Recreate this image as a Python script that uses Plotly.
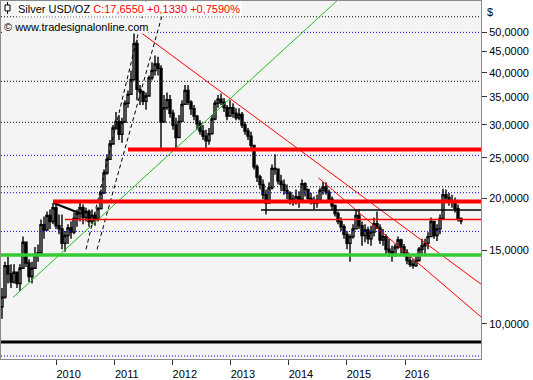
import numpy as np
import plotly.graph_objects as go

# ---------------- data ----------------
close_vals = [
    11.6, 13.8, 13.2, 12.6, 13.3, 12.5, 13.6, 15.7, 14.0, 13.0, 13.6, 14.6, 14.8, 17.3, 16.8, 18.2, 17.6, 19.0, 17.2, 16.9,
    15.6, 16.3, 17.0, 16.6, 17.9, 18.4, 19.0, 18.0, 18.6, 17.6, 18.2, 17.9, 18.9, 20.6,
    23.0, 24.8, 27.0, 29.5, 30.6, 28.5, 30.5, 33.8, 35.5, 38.5, 47.0, 36.5, 36.0, 34.2, 35.2, 38.9, 40.5, 42.0, 41.0, 30.5,
    33.0, 34.5, 32.0, 30.0, 28.0, 30.6, 33.6, 36.3, 34.0, 32.8, 31.5, 30.2, 29.0, 28.2, 27.5, 28.6, 31.0, 33.8, 34.6, 34.0,
    33.0, 31.5, 33.0, 32.0, 31.2, 31.8, 30.0, 29.0, 28.2, 26.8,
    23.8, 22.5, 21.6, 20.4, 19.5, 21.2, 23.6, 23.5, 22.0, 21.6, 20.9, 20.6, 19.9, 19.6, 20.2, 19.9, 21.7, 21.0, 20.0, 19.7,
    19.5, 19.8, 20.9, 21.3, 20.7, 19.9, 19.2, 18.4, 17.6, 17.1,
    16.4, 15.6, 16.2, 16.9, 18.2, 17.2, 16.3, 16.8, 16.0, 16.6, 17.4, 17.0, 15.9, 16.2, 15.1, 14.9, 14.6, 15.3, 15.9, 15.3,
    14.8, 14.2, 13.9, 13.8, 14.2, 15.1, 15.4, 15.6, 16.2, 17.6, 16.3, 16.9, 17.9, 20.4, 20.1, 19.7, 19.6, 18.9, 17.9, 17.655,
]
high_vals = [
    12.2, 14.1, 14.5, 13.9, 13.9, 13.3, 13.9, 16.2, 15.7, 14.3, 14.1, 15.3, 15.5, 17.8, 18.1, 18.6, 18.8, 19.5, 19.35, 18.3,
    18.3, 16.7, 17.35, 17.6, 18.5, 18.8, 19.5, 19.35, 19.0, 18.8, 18.8, 18.5, 19.1, 21.0,
    23.45, 25.5, 27.6, 30.0, 32.2, 31.7, 31.2, 34.4, 36.3, 40.5, 50.0, 48.0, 37.4, 36.3, 35.9, 39.4, 42.4, 44.0, 43.7, 41.7,
    35.4, 35.9, 35.4, 32.6, 31.2, 31.7, 34.4, 37.4, 37.4, 34.4, 33.5, 31.7, 30.8, 30.0, 29.2, 29.5, 31.7, 34.4, 35.4, 35.7,
    34.8, 33.5, 34.4, 33.8, 32.9, 32.9, 32.2, 30.5, 29.5, 28.9,
    26.2, 24.1, 22.8, 22.2, 21.0, 21.85, 24.1, 25.5, 23.45, 22.8, 22.2, 21.6, 20.8, 20.4, 21.0, 20.8, 22.2, 21.85, 21.0, 20.6,
    20.2, 20.4, 21.2, 21.9, 21.85, 21.0, 20.2, 19.35, 18.6, 18.0,
    17.35, 16.7, 16.4, 17.35, 18.8, 18.8, 17.6, 17.35, 17.1, 17.2, 18.0, 18.6, 17.35, 16.9, 16.4, 16.0, 15.4, 15.55, 16.2, 16.0,
    15.55, 15.1, 14.7, 14.3, 14.7, 15.3, 16.0, 16.0, 16.6, 18.0, 17.6, 17.35, 18.3, 21.1, 21.0, 20.6, 20.4, 20.1, 19.35, 18.0,
]
low_vals = [
    10.3, 11.5, 12.5, 12.2, 12.5, 12.2, 12.0, 14.1, 13.7, 12.6, 12.5, 13.6, 14.1, 15.1, 16.0, 16.8, 16.9, 17.35, 16.9, 16.4,
    15.1, 14.9, 15.55, 16.0, 16.4, 17.1, 17.6, 17.35, 17.6, 17.1, 17.35, 17.2, 17.6, 18.8,
    20.6, 22.8, 24.8, 26.9, 29.2, 27.6, 27.2, 30.8, 33.0, 35.4, 41.7, 34.4, 33.5, 33.5, 32.6, 35.4, 38.4, 39.4, 39.4, 26.2,
    30.8, 32.6, 31.2, 29.2, 26.2, 28.4, 31.2, 33.5, 33.5, 31.7, 30.8, 29.2, 28.4, 27.6, 26.4, 26.9, 28.4, 30.8, 33.0, 33.5,
    32.2, 30.8, 31.7, 31.2, 30.8, 30.8, 29.5, 28.4, 27.6, 26.4,
    23.45, 21.9, 21.0, 19.9, 18.3, 19.9, 21.0, 22.8, 21.6, 20.8, 20.4, 19.9, 19.35, 19.2, 19.35, 19.0, 19.9, 20.2, 19.6, 19.35,
    18.8, 19.0, 19.6, 20.4, 20.4, 19.6, 18.8, 18.1, 17.35, 16.7,
    16.0, 15.1, 14.1, 16.0, 17.1, 16.9, 15.4, 15.7, 15.55, 15.4, 16.2, 16.9, 15.55, 15.4, 14.7, 14.5, 14.1, 14.5, 15.1, 14.7,
    14.5, 13.9, 13.7, 13.57, 13.7, 14.1, 14.7, 14.7, 15.1, 16.2, 16.0, 15.8, 16.4, 17.8, 19.6, 19.2, 19.0, 18.5, 17.6, 17.35,
]
first_open = 11.0

year_ticks = [2010, 2011, 2012, 2013, 2014, 2015, 2016]
price_ticks = [10, 15, 20, 25, 30, 35, 40, 45, 50]

# horizontal levels (price, start year)
red_thick_levels = [(26.2, 2011.228), (19.65, 2009.936)]
red_thin_level = (17.8, 2010.143)
black_thin_level = (18.75, 2013.519)
green_level = 14.64
black_thick_level = 9.05
black_dotted = [54.5, 38.17, 30.44, 21.33]
blue_dotted = [50.0, 25.36, 20.64, 16.67, 8.38]

# trend lines ((year, price), (year, price))
green_trend = ((2009.2473, 11.58), (2015.011, 62.8))
red_trend_a = ((2011.292, 51.86), (2017.309, 12.46))
red_trend_b = ((2014.507, 22.41), (2017.309, 10.40))
black_trend = ((2009.936, 19.53), (2010.397, 18.43))
dashed_1 = ((2010.505, 15.1), (2011.538, 59.4))
dashed_2 = ((2010.695, 15.1), (2011.883, 59.4))

# ---------------- build ----------------
n = len(close_vals)
X0, X1 = 2009.0405, 2017.309
xs = 2009.0577 + 0.05168 * np.arange(n)
opens = [first_open] + close_vals[:-1]
highs = [max(h, o, c) for h, o, c in zip(high_vals, opens, close_vals)]
lows = [min(l, o, c) for l, o, c in zip(low_vals, opens, close_vals)]

fig = go.Figure()

def hline(price, x_start, color, width, dash="solid"):
    fig.add_trace(go.Scatter(x=[x_start, X1], y=[price, price], mode="lines",
                             line=dict(color=color, width=width, dash=dash),
                             hoverinfo="skip", showlegend=False))

def seg(p0, p1, color, width, dash="solid"):
    fig.add_trace(go.Scatter(x=[p0[0], p1[0]], y=[p0[1], p1[1]], mode="lines",
                             line=dict(color=color, width=width, dash=dash),
                             hoverinfo="skip", showlegend=False))

for p in black_dotted:
    hline(p, X0, "#000000", 1, "1px,2px")
for p in blue_dotted:
    hline(p, X0, "#0000cc", 1, "1px,2px")

fig.add_trace(go.Candlestick(
    x=xs, open=opens, high=highs, low=lows, close=close_vals,
    increasing=dict(line=dict(color="black", width=1.4), fillcolor="white"),
    decreasing=dict(line=dict(color="black", width=1.4), fillcolor="black"),
    whiskerwidth=0, hoverinfo="skip", showlegend=False))

seg(*green_trend, "#22bb22", 1)
seg(*red_trend_a, "#ff0000", 1)
seg(*red_trend_b, "#ff0000", 1)
seg(*dashed_1, "#000000", 1, "4px,3px")
seg(*dashed_2, "#000000", 1, "4px,3px")
seg(*black_trend, "#000000", 2)

hline(green_level, X0, "#33cc33", 3.5)
hline(black_thick_level, X0, "#000000", 3)
hline(black_thin_level[0], black_thin_level[1], "#000000", 1.5)
hline(red_thin_level[0], red_thin_level[1], "#ff0000", 1.5)
for p, xs0 in red_thick_levels:
    hline(p, xs0, "#ff0000", 4)

FONT = "Liberation Sans"
fig.update_layout(
    width=533, height=380,
    margin=dict(l=1, r=52, t=0, b=19),
    paper_bgcolor="white", plot_bgcolor="#f4f4f4",
    separators=",.",
    showlegend=False,
    boxgap=0.05,
    hovermode=False,
    font=dict(family=FONT, size=11, color="black"),
    xaxis=dict(range=[X0, X1], tickvals=year_ticks, ticktext=[str(y) for y in year_ticks],
               ticks="outside", ticklen=5, tickcolor="#333", showgrid=False, zeroline=False,
               showline=True, mirror=True, linecolor="#8a8a8a", linewidth=1,
               rangeslider=dict(visible=False), ticklabelshift=12, ticklabelstandoff=0,
               tickfont=dict(family=FONT, size=11)),
    yaxis=dict(type="log", side="right", range=[np.log10(8.243), np.log10(59.45)],
               tickvals=price_ticks, ticktext=[f"{v:.4f}".replace(".", ",") for v in price_ticks],
               ticks="outside", ticklen=5, tickcolor="#333", showgrid=False, zeroline=False,
               showline=True, mirror=True, linecolor="#8a8a8a", linewidth=1,
               tickfont=dict(family=FONT, size=11)),
)

last_c = close_vals[-1]
chg = 0.133
pct = chg / (last_c - chg) * 100
title_txt = ("Silver USD/OZ <span style='color:#ff0000'>C:" + f"{last_c:.4f}".replace(".", ",") +
             " +" + f"{chg:.4f}".replace(".", ",") + " +" + f"{pct:.4f}".replace(".", ",") + "%</span>")
fig.add_annotation(xref="paper", yref="paper", x=15 / 480, y=1.0, xanchor="left", yanchor="top",
                   text=title_txt, showarrow=False, bgcolor="white", borderpad=1,
                   font=dict(family=FONT, size=11, color="black"))
fig.add_annotation(xref="paper", yref="paper", x=2 / 480, y=1 - 19 / 361, xanchor="left", yanchor="top",
                   text="© www.tradesignalonline.com", showarrow=False, bgcolor="#f4f4f4", borderpad=0,
                   font=dict(family=FONT, size=11, color="black"))
fig.add_annotation(xref="paper", yref="paper", x=1 + 4 / 480, y=1 - 3 / 361, xanchor="left", yanchor="top",
                   text="$", showarrow=False, font=dict(family=FONT, size=11, color="black"))
# small instrument icon
fig.add_shape(type="rect", xref="paper", yref="paper", x0=4 / 480, x1=9 / 480, y0=1 - 10 / 361, y1=1 - 4 / 361,
              line=dict(color="black", width=1), fillcolor="white")
fig.add_shape(type="line", xref="paper", yref="paper", x0=6.5 / 480, x1=6.5 / 480, y0=1 - 13 / 361, y1=1 - 1 / 361,
              line=dict(color="black", width=1), layer="below")

fig.write_html("out.html", config={"displayModeBar": False, "staticPlot": True},
               post_script="document.body.style.margin='0';document.body.style.padding='0';")
